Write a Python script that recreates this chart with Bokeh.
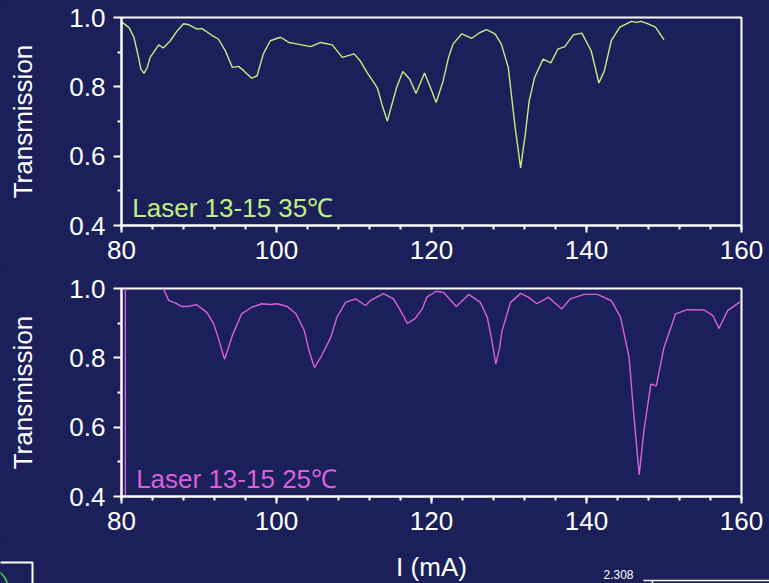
from bokeh.plotting import figure
from bokeh.layouts import column
from bokeh.models import Range1d, FixedTicker, Label, NumeralTickFormatter
from bokeh.embed import file_html
from bokeh.resources import INLINE

BG = "#1b1f5a"
GREEN = "#c0f080"
MAGENTA = "#d860dc"
FONT = "Liberation Sans"

x_ticks = [80, 100, 120, 140, 160]
y_ticks = [0.4, 0.6, 0.8, 1.0]

# Laser 13-15 at 35 C
x35 = [80.1, 81.0, 81.6, 82.2, 82.5, 82.9, 83.3, 83.7, 84.8, 85.4, 86.3, 87.2, 88.0, 88.7, 89.7, 90.4, 91.7, 92.5,
       93.4, 94.3, 95.1, 95.8, 96.8, 97.5, 98.3, 99.2, 100.5, 101.6, 102.6, 104.4, 105.7, 107.2,
       108.5, 110.0, 110.8, 111.7, 113.0, 113.6, 114.3, 114.9, 115.5, 116.3, 117.2, 118.0, 119.1,
       120.0, 120.6, 121.5, 122.2, 122.8, 123.9, 125.2, 126.2, 127.1, 128.2, 129.0, 129.9, 130.8, 131.5,
       132.1, 132.6, 133.3, 134.4, 135.4, 136.3, 137.2, 138.3, 139.4, 140.6, 141.6, 142.3, 143.2,
       144.3, 145.8, 146.5, 147.0, 147.8, 148.9, 150.0]
y35 = [0.986, 0.970, 0.943, 0.885, 0.851, 0.839, 0.855, 0.885, 0.921, 0.912, 0.933, 0.962, 0.982, 0.979, 0.967, 0.968, 0.948, 0.938,
       0.904, 0.856, 0.859, 0.846, 0.825, 0.832, 0.895, 0.933, 0.943, 0.928, 0.924, 0.916, 0.928, 0.921,
       0.885, 0.895, 0.875, 0.841, 0.798, 0.750, 0.701, 0.750, 0.798, 0.844, 0.822, 0.781, 0.840,
       0.790, 0.755, 0.817, 0.885, 0.924, 0.953, 0.940, 0.956, 0.965, 0.953, 0.924, 0.856, 0.682, 0.566,
       0.663, 0.759, 0.827, 0.880, 0.869, 0.909, 0.916, 0.950, 0.955, 0.904, 0.811, 0.846, 0.933,
       0.972, 0.989, 0.986, 0.989, 0.983, 0.972, 0.936]

# Laser 13-15 at 25 C
x25 = [85.2, 86.1, 87.0, 87.8, 88.7, 89.7, 91.0, 91.9, 92.6, 93.3, 93.8, 94.3, 95.5, 96.8, 98.1,
       99.2, 100.1, 101.4, 102.5, 103.6, 104.2, 104.9, 105.7, 107.0, 107.8, 108.9, 110.2, 111.5,
       112.1, 113.8, 115.1, 116.0, 116.9, 117.9, 118.8, 119.4, 120.6, 121.6, 123.2, 124.8, 126.3,
       127.2, 127.8, 128.3, 128.8, 129.1, 130.2, 131.5, 132.5, 133.6, 135.1, 136.8, 137.9, 139.7,
       141.4, 143.2, 144.4, 145.5, 146.1, 146.8, 147.4, 148.3, 149.0, 150.0, 151.5, 153.0, 155.2,
       156.3, 157.1, 158.2, 159.9]
y25 = [1.01, 0.965, 0.958, 0.948, 0.949, 0.953, 0.931, 0.898, 0.849, 0.796, 0.830, 0.864, 0.927, 0.946, 0.956,
       0.954, 0.956, 0.948, 0.927, 0.878, 0.820, 0.772, 0.801, 0.859, 0.917, 0.960, 0.970, 0.951,
       0.965, 0.985, 0.970, 0.936, 0.899, 0.914, 0.941, 0.975, 0.992, 0.988, 0.948, 0.983, 0.960,
       0.917, 0.849, 0.782, 0.830, 0.878, 0.960, 0.986, 0.975, 0.956, 0.975, 0.941, 0.970, 0.983,
       0.983, 0.965, 0.917, 0.801, 0.637, 0.463, 0.588, 0.724, 0.719, 0.830, 0.927, 0.939, 0.938,
       0.922, 0.885, 0.936, 0.963]

# stray vertical trace in the 25 C panel
x25_edge = [80.5, 80.5]
y25_edge = [0.4, 1.0]


def make_fig(height, top, bottom):
    p = figure(width=769, height=height, x_range=Range1d(80, 160), y_range=Range1d(0.4, 1.0),
               output_backend="svg", toolbar_location=None,
               min_border_left=121, min_border_right=28, min_border_top=top, min_border_bottom=bottom,
               background_fill_color=BG, border_fill_color=BG,
               outline_line_color="white", outline_line_width=2)
    p.grid.visible = False
    p.xaxis.ticker = FixedTicker(ticks=x_ticks, minor_ticks=list(range(80, 161, 4)))
    p.yaxis.ticker = FixedTicker(ticks=y_ticks, minor_ticks=[0.5, 0.7, 0.9])
    p.xaxis.formatter = NumeralTickFormatter(format="0")
    p.yaxis.formatter = NumeralTickFormatter(format="0.0")
    for ax in (p.xaxis[0], p.yaxis[0]):
        ax.axis_line_color = "white"
        ax.axis_line_width = 2
        ax.major_tick_line_color = "white"
        ax.major_tick_line_width = 2
        ax.minor_tick_line_color = "white"
        ax.minor_tick_line_width = 2
        ax.major_tick_in = 0
        ax.minor_tick_in = 0
        ax.minor_tick_out = 4
        ax.major_label_text_color = "white"
        ax.major_label_text_font = FONT
        ax.major_label_text_font_size = "26px"
        ax.axis_label_text_color = "white"
        ax.axis_label_text_font = FONT
        ax.axis_label_text_font_size = "26px"
        ax.axis_label_text_font_style = "normal"
    p.xaxis.major_tick_out = 7
    p.yaxis.major_tick_out = 8
    p.xaxis.major_label_standoff = 8
    p.yaxis.major_label_standoff = 8
    p.yaxis.axis_label = "Transmission"
    p.yaxis.axis_label_standoff = 28
    return p


p1 = make_fig(270, 17, 45)
p1.line(x35, y35, line_color=GREEN, line_width=1.4)
p1.add_layout(Label(x=81.4, y=0.45, text="Laser 13-15 35℃", text_color=GREEN, text_font=FONT,
                    text_font_size="26px", text_baseline="alphabetic"))

p2 = make_fig(271, 18, 45)
p2.line(x25, y25, line_color=MAGENTA, line_width=1.4)
p2.line(x25_edge, y25_edge, line_color=MAGENTA, line_width=1.4)
p2.add_layout(Label(x=80.6, y=0.45, text="Laser 13-15 25℃", text_color=MAGENTA, text_font=FONT,
                    text_font_size="26px", text_baseline="alphabetic", x_offset=10))

# bottom strip: shared x-axis title plus the cut-off edges of neighbouring graphics
p3 = figure(width=769, height=42, x_range=Range1d(0, 769), y_range=Range1d(0, 42),
            output_backend="svg", toolbar_location=None, x_axis_type=None, y_axis_type=None,
            min_border_left=0, min_border_right=0, min_border_top=0, min_border_bottom=0,
            background_fill_color=BG, border_fill_color=BG, outline_line_color=None)
try:
    p3.frame_align = False
except Exception:
    p3.x_range = Range1d(121, 741)
p3.grid.visible = False
p3.add_layout(Label(x=431, y=17, text="I (mA)", text_color="white", text_font=FONT,
                    text_font_size="26px", text_align="center", text_baseline="middle"))
p3.add_layout(Label(x=618, y=14, text="2.308", text_color="white", text_font=FONT,
                    text_font_size="12px", text_align="center", text_baseline="top"))
p3.line([643, 769], [3, 3], line_color="white", line_width=1.5)
p3.line([652, 652], [3, 0], line_color="white", line_width=1.5)
p3.line([-5, 32, 32], [21, 21, -5], line_color="white", line_width=2)
p3.scatter(x=[-16], y=[-7], size=48, marker="circle", fill_color=None, line_color="#3de03d", line_width=1.5)

layout = column(p1, p2, p3, spacing=0, styles={"background-color": BG})

html = file_html(layout, INLINE)
html = html.replace("<body>", '<body style="background-color:%s;">' % BG, 1)
open("out.html", "w").write(html)
